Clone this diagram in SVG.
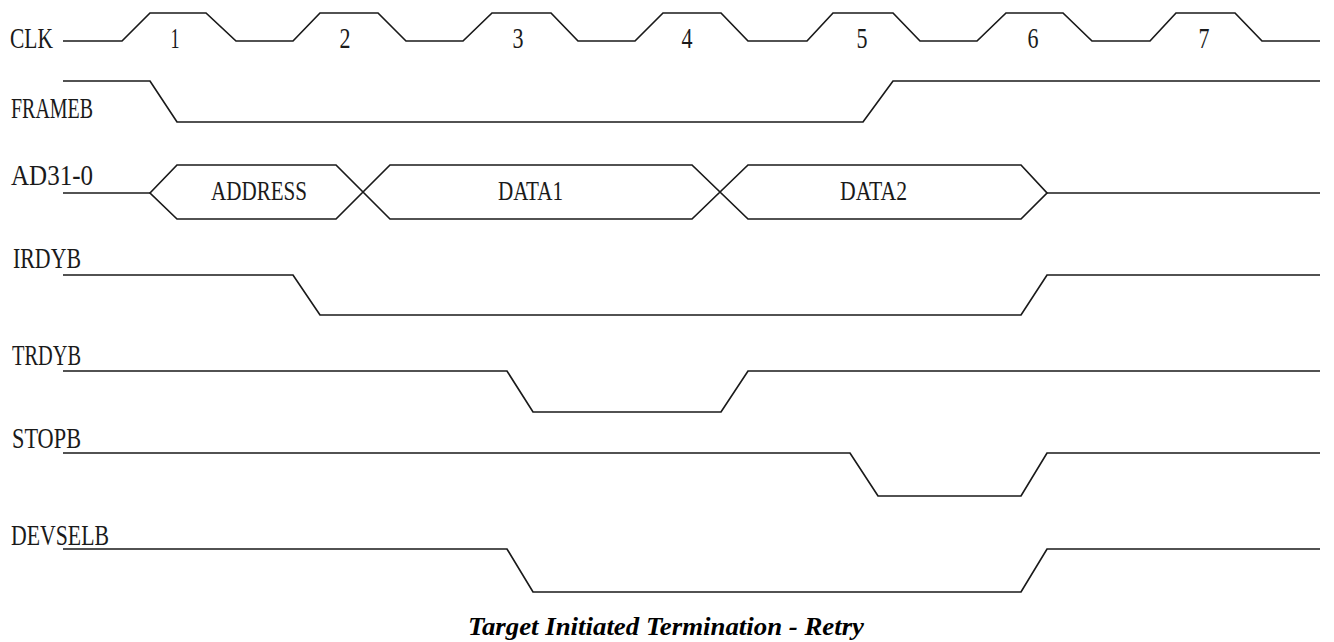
<svg xmlns="http://www.w3.org/2000/svg" width="1334" height="642" viewBox="0 0 1334 642">
<style>
.bg{fill:#ffffff}
.sig{fill:none;stroke:#1a1a1a;stroke-width:1.7;stroke-linejoin:miter}
.lbl{font-family:"Liberation Serif","DejaVu Serif",serif;font-size:29px;fill:#1a1a1a}
.val{font-family:"Liberation Serif","DejaVu Serif",serif;font-size:27px;fill:#1a1a1a}
.num{font-family:"Liberation Serif","DejaVu Serif",serif;font-size:29px;fill:#1a1a1a;text-anchor:middle}
.title{font-family:"Liberation Serif","Times New Roman",serif;font-size:26px;font-weight:bold;font-style:italic;fill:#000}
</style>
<rect class="bg" x="0" y="0" width="1334" height="642"/>
<g id="labels">
<text class="lbl" x="10" y="48" textLength="43" lengthAdjust="spacingAndGlyphs">CLK</text>
<text class="lbl" x="11" y="118" textLength="82" lengthAdjust="spacingAndGlyphs">FRAMEB</text>
<text class="lbl" x="11" y="185" textLength="82" lengthAdjust="spacingAndGlyphs">AD31-0</text>
<text class="lbl" x="13" y="268" textLength="68" lengthAdjust="spacingAndGlyphs">IRDYB</text>
<text class="lbl" x="12" y="365" textLength="69" lengthAdjust="spacingAndGlyphs">TRDYB</text>
<text class="lbl" x="12" y="448" textLength="69" lengthAdjust="spacingAndGlyphs">STOPB</text>
<text class="lbl" x="11" y="545" textLength="98" lengthAdjust="spacingAndGlyphs">DEVSELB</text>
</g>
<g id="clock-numbers">
<text class="num" x="175" y="48" textLength="9" lengthAdjust="spacingAndGlyphs">1</text>
<text class="num" x="345" y="48" textLength="11" lengthAdjust="spacingAndGlyphs">2</text>
<text class="num" x="518" y="48" textLength="11" lengthAdjust="spacingAndGlyphs">3</text>
<text class="num" x="687" y="48" textLength="11" lengthAdjust="spacingAndGlyphs">4</text>
<text class="num" x="862" y="48" textLength="11" lengthAdjust="spacingAndGlyphs">5</text>
<text class="num" x="1033" y="48" textLength="11" lengthAdjust="spacingAndGlyphs">6</text>
<text class="num" x="1204" y="48" textLength="11" lengthAdjust="spacingAndGlyphs">7</text>
</g>
<g id="connectors">
<path id="clk" class="sig" d="M63 41 L122 41 L150 13 L206 13 L236 41 L293 41 L320 13 L378 13 L406 41 L463 41 L492 13 L551 13 L578 41 L635 41 L663 13 L721 13 L748 41 L807 41 L833 13 L893 13 L920 41 L977 41 L1006 13 L1063 13 L1092 41 L1150 41 L1176 13 L1235 13 L1262 41 L1320 41"/>
<path id="frameb" class="sig" d="M63 81 L150 81 L177 122 L863 122 L893 81 L1320 81"/>
<path id="ad-lead" class="sig" d="M63 193 L150 193"/>
<path id="ad-bus" class="sig" d="M150 193 L177 165 L336 165 L390 219 L692 219 L748 165 L1021 165 L1047 193 L1021 219 L748 219 L692 165 L390 165 L336 219 L177 219 Z"/>
<path id="ad-tail" class="sig" d="M1047 193 L1320 193"/>
<path id="irdyb" class="sig" d="M63 275 L293 275 L320 315 L1021 315 L1047 275 L1320 275"/>
<path id="trdyb" class="sig" d="M63 371 L507 371 L533 412 L721 412 L748 371 L1320 371"/>
<path id="stopb" class="sig" d="M63 453 L850 453 L878 496 L1021 496 L1047 453 L1320 453"/>
<path id="devselb" class="sig" d="M63 549 L507 549 L533 592 L1021 592 L1047 549 L1320 549"/>
</g>
<g id="bus-values">
<text class="val" x="211" y="200" textLength="96" lengthAdjust="spacingAndGlyphs">ADDRESS</text>
<text class="val" x="498" y="200" textLength="65" lengthAdjust="spacingAndGlyphs">DATA1</text>
<text class="val" x="840" y="200" textLength="67" lengthAdjust="spacingAndGlyphs">DATA2</text>
</g>
<g id="caption">
<text class="title" x="468" y="635" textLength="396" lengthAdjust="spacingAndGlyphs">Target Initiated Termination - Retry</text>
</g>
</svg>
